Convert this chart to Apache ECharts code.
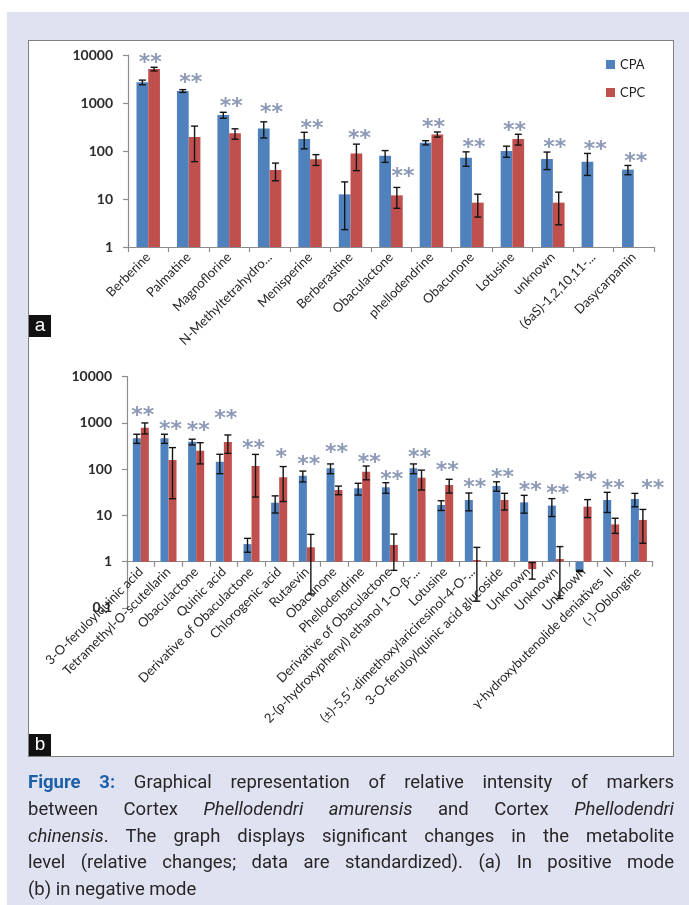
<!DOCTYPE html>
<html>
<head>
<meta charset="utf-8">
<script src="https://cdn.jsdelivr.net/npm/echarts@6/dist/echarts.min.js"></script>
<style>
  html, body { margin: 0; padding: 0; }
  body { width: 689px; height: 905px; position: relative; overflow: hidden; background: #ffffff; }
  #bg { position: absolute; left: 7px; top: 12px; width: 682px; height: 893px; background: #dfe2f0; }
  #box { position: absolute; left: 28px; top: 40px; width: 646px; height: 717px; box-sizing: border-box; background: #ffffff; border: 1.5px solid #7f7f7f; }
  #chart { position: absolute; left: 0; top: 0; width: 689px; height: 905px; }
  .lab { position: absolute; width: 22px; height: 22px; background: #111; color: #fff; font: 19px "Liberation Sans", Arial, sans-serif; line-height: 20px; text-align: center; }
  #cap { position: absolute; left: 28px; top: 769px; width: 646px; font-family: Roboto, "Open Sans", sans-serif; font-size: 18.5px; line-height: 26.75px; color: #2a2627; }
  #cap div { text-align: justify; text-align-last: justify; white-space: nowrap; }
  #cap div.last { text-align: left; text-align-last: left; }
  #cap b { color: #1d5fa9; }
</style>
</head>
<body>
<div id="bg"></div>
<div id="box"></div>
<div id="chart"></div>
<div class="lab" style="left:29px;top:315px;">a</div>
<div class="lab" style="left:29px;top:734px;">b</div>
<div id="cap">
  <div><b>Figure 3:</b> Graphical representation of relative intensity of markers</div>
  <div>between Cortex <i>Phellodendri amurensis</i> and Cortex <i>Phellodendri</i></div>
  <div><i>chinensis</i>. The graph displays significant changes in the metabolite</div>
  <div>level (relative changes; data are standardized). (a) In positive mode</div>
  <div class="last">(b) in negative mode</div>
</div>
<script>
// ---------- Panel a (positive mode) ----------
const catsA = ['Berberine', 'Palmatine', 'Magnoflorine', 'N-Methyltetrahydro...', 'Menisperine',
  'Berberastine', 'Obaculactone', 'phellodendrine', 'Obacunone', 'Lotusine', 'unknown',
  '(6aS)-1,2,10,11-...', 'Dasycarpamin'];
const cpaA    = [2700, 1780, 560, 296, 178, 12.5, 80, 149, 72, 100, 68, 60, 41];
const cpaErrA = [300, 120, 80, 109, 67, 10.2, 22, 15, 24, 26, 27, 29, 9];
const cpcA    = [5100, 195, 233, 40, 67, 89, 11.9, 222, 8.4, 178, 8.4, null, null];
const cpcErrA = [450, 135, 57, 16, 17, 50, 5.5, 27, 4.2, 45, 5.5, null, null];
const starsA     = ['**', '**', '**', '**', '**', '**', '**', '**', '**', '**', '**', '**', '**'];
const starLevelA = [8900, 3380, 1100, 800, 380, 235, 37, 405, 150, 350, 150, 138, 76];
const yTicksA = [1, 10, 100, 1000, 10000];

// ---------- Panel b (negative mode) ----------
const catsB = ['3-O-feruloylquinic acid', 'Tetramethyl-O-scutellarin', 'Obaculactone', 'Quinic acid',
  'Derivative of Obaculactone', 'Chlorogenic acid', 'Rutaevin', 'Obacunone', 'Phellodendrine',
  'Derivative of Obaculactone', '2-(p-hydroxyphenyl) ethanol 1-O-\u03b2-...', 'Lotusine',
  '(\u00b1)-5,5\u2032-dimethoxylariciresinol-4-O-...', '3-O-feruloylquinic acid glucoside',
  'Unknown', 'Unknown', 'Unknown', '\u03b3-hydroxybutenolide deniatives  II', '(-)-Oblongine'];
const cpaB    = [466, 466, 390, 145, 2.4, 18.9, 72, 105, 38.6, 40.6, 105, 16.8, 21.6, 43.4, 19.2, 16.3, 0.63, 21.6, 22.7];
const cpaErrB = [104, 104, 55, 65, 0.8, 7.6, 19, 25, 11, 10.5, 25, 4, 9, 10, 8, 6.8, 0.02, 10, 7.3];
const cpcB    = [790, 158, 252, 385, 117, 67, 2.05, 35.6, 88, 2.3, 65.5, 45.5, 1.09, 21.6, 0.69, 1.14, 15.5, 6.4, 8];
const cpcErrB = [210, 135, 122, 165, 92, 47, 1.85, 7.5, 29, 1.65, 30, 15, 0.95, 8.5, 0.27, 0.98, 6.5, 2.3, 5.5];
const starsB     = ['**', '**', '**', '**', '**', '*', '**', '**', '**', '**', '**', '**', '**', '**', '**', '**', '**', '**', '**'];
const starLevelB = [1900, 935, 870, 1620, 363, 227, 166, 292, 181, 79, 227, 119, 51, 84, 44, 38.6, 75, 49.6, 49.6];
const yTicksB = [0.1, 1, 10, 100, 1000, 10000];

// ---------- styling / layout (not data) ----------
const BLUE = '#4f81bd', RED = '#c0504d', AXIS = '#8c8c8c';
const GAP = 0.42;
const starDxA = { 5: 9, 6: 12 };
const starDxB = { 8: 7, 18: 14 };
const gridA = { left: 128, top: 55, width: 526, height: 192 };
const gridB = { left: 127, top: 376.7, width: 525.7, height: 231.25 };
const decadeB = gridB.height / (yTicksB.length - 1);

function errRender(side, ymin) {
  return function (params, api) {
    const i = api.value(0), v = api.value(1), e = api.value(2);
    if (v == null || isNaN(v) || isNaN(e)) return;
    const cw = api.size([1, 0])[0];
    const bw = cw * (1 - GAP) / 2;
    const c = api.coord([i, v]);
    const x = c[0] + side * bw / 2;
    const yt = api.coord([i, v + e])[1];
    const yb = api.coord([i, Math.max(v - e, ymin)])[1];
    const h = 3.5;
    const st = { stroke: '#141414', lineWidth: 1.4 };
    return { type: 'group', children: [
      { type: 'line', shape: { x1: x, y1: yt, x2: x, y2: yb }, style: st },
      { type: 'line', shape: { x1: x - h, y1: yt, x2: x + h, y2: yt }, style: st },
      { type: 'line', shape: { x1: x - h, y1: yb, x2: x + h, y2: yb }, style: st }
    ]};
  };
}

function errData(vals, errs) {
  return vals.map((v, i) => v == null ? [i, NaN, NaN] : [i, v, errs[i]]);
}

function starData(levels, dx) {
  return levels.map((lv, i) => ({ value: [i, lv], label: { offset: [dx[i] != null ? dx[i] : 2, 6] } }));
}

const fmt = v => String(+Number(v).toPrecision(6));

function xAxisCfg(gi, cats, offset) {
  return {
    type: 'category', gridIndex: gi, data: cats, offset: offset,
    axisLine: { show: true, onZero: false, lineStyle: { color: AXIS, width: 1.2 } },
    axisTick: { show: true, alignWithLabel: false, length: 5, lineStyle: { color: AXIS, width: 1.2 } },
    axisLabel: { interval: 0, rotate: 45, margin: 8, fontFamily: 'Lato', fontSize: 13, color: '#262626' },
    splitLine: { show: false }
  };
}
function yAxisCfg(gi, min, max) {
  return {
    type: 'log', logBase: 10, gridIndex: gi, min: min, max: max,
    axisLine: { show: true, lineStyle: { color: AXIS, width: 1.2 } },
    axisTick: { show: true, length: 5, lineStyle: { color: AXIS, width: 1.2 } },
    axisLabel: { margin: 15, fontFamily: 'Lato', fontSize: 14, fontWeight: 'bold', color: '#2b2b2b', formatter: fmt },
    splitLine: { show: false }, minorTick: { show: false }
  };
}

const starLabel = {
  show: true, position: 'inside', fontFamily: 'DejaVu Sans', fontSize: 22, fontWeight: 'bold', color: '#6f80a4'
};

const chart = echarts.init(document.getElementById('chart'), null, { renderer: 'canvas' });
chart.setOption({
  animation: false,
  backgroundColor: 'transparent',
  grid: [
    Object.assign({}, gridA),
    Object.assign({}, gridB)
  ],
  legend: {
    data: ['CPA', 'CPC'], orient: 'vertical', left: 601, top: 53,
    itemWidth: 9, itemHeight: 9, itemGap: 15, icon: 'rect',
    textStyle: { fontFamily: 'Lato', fontSize: 13, color: '#222' },
    selectedMode: false
  },
  xAxis: [xAxisCfg(0, catsA, 0), xAxisCfg(1, catsB, -decadeB)],
  yAxis: [yAxisCfg(0, yTicksA[0], yTicksA[yTicksA.length - 1]), yAxisCfg(1, yTicksB[0], yTicksB[yTicksB.length - 1])],
  series: [
    { name: 'CPA', type: 'bar', xAxisIndex: 0, yAxisIndex: 0, data: cpaA, itemStyle: { color: BLUE }, barGap: '0%', barCategoryGap: (GAP * 100) + '%' },
    { name: 'CPC', type: 'bar', xAxisIndex: 0, yAxisIndex: 0, data: cpcA, itemStyle: { color: RED }, barGap: '0%', barCategoryGap: (GAP * 100) + '%' },
    { name: 'errA1', type: 'custom', xAxisIndex: 0, yAxisIndex: 0, renderItem: errRender(-1, yTicksA[0]), data: errData(cpaA, cpaErrA), encode: { x: 0, y: 1 }, clip: false, z: 5 },
    { name: 'errA2', type: 'custom', xAxisIndex: 0, yAxisIndex: 0, renderItem: errRender(1, yTicksA[0]), data: errData(cpcA, cpcErrA), encode: { x: 0, y: 1 }, clip: false, z: 5 },
    { name: 'starsA', type: 'scatter', xAxisIndex: 0, yAxisIndex: 0, symbolSize: 1, itemStyle: { color: 'transparent' },
      data: starData(starLevelA, starDxA), label: Object.assign({ formatter: p => starsA[p.dataIndex] }, starLabel), z: 6 },

    { name: 'CPA', type: 'bar', xAxisIndex: 1, yAxisIndex: 1, data: cpaB, itemStyle: { color: BLUE }, barGap: '0%', barCategoryGap: (GAP * 100) + '%' },
    { name: 'CPC', type: 'bar', xAxisIndex: 1, yAxisIndex: 1, data: cpcB, itemStyle: { color: RED }, barGap: '0%', barCategoryGap: (GAP * 100) + '%' },
    { name: 'errB1', type: 'custom', xAxisIndex: 1, yAxisIndex: 1, renderItem: errRender(-1, yTicksB[0]), data: errData(cpaB, cpaErrB), encode: { x: 0, y: 1 }, clip: false, z: 5 },
    { name: 'errB2', type: 'custom', xAxisIndex: 1, yAxisIndex: 1, renderItem: errRender(1, yTicksB[0]), data: errData(cpcB, cpcErrB), encode: { x: 0, y: 1 }, clip: false, z: 5 },
    { name: 'starsB', type: 'scatter', xAxisIndex: 1, yAxisIndex: 1, symbolSize: 1, itemStyle: { color: 'transparent' },
      data: starData(starLevelB, starDxB), label: Object.assign({ formatter: p => starsB[p.dataIndex] }, starLabel), z: 6 }
  ]
});
</script>
</body>
</html>
